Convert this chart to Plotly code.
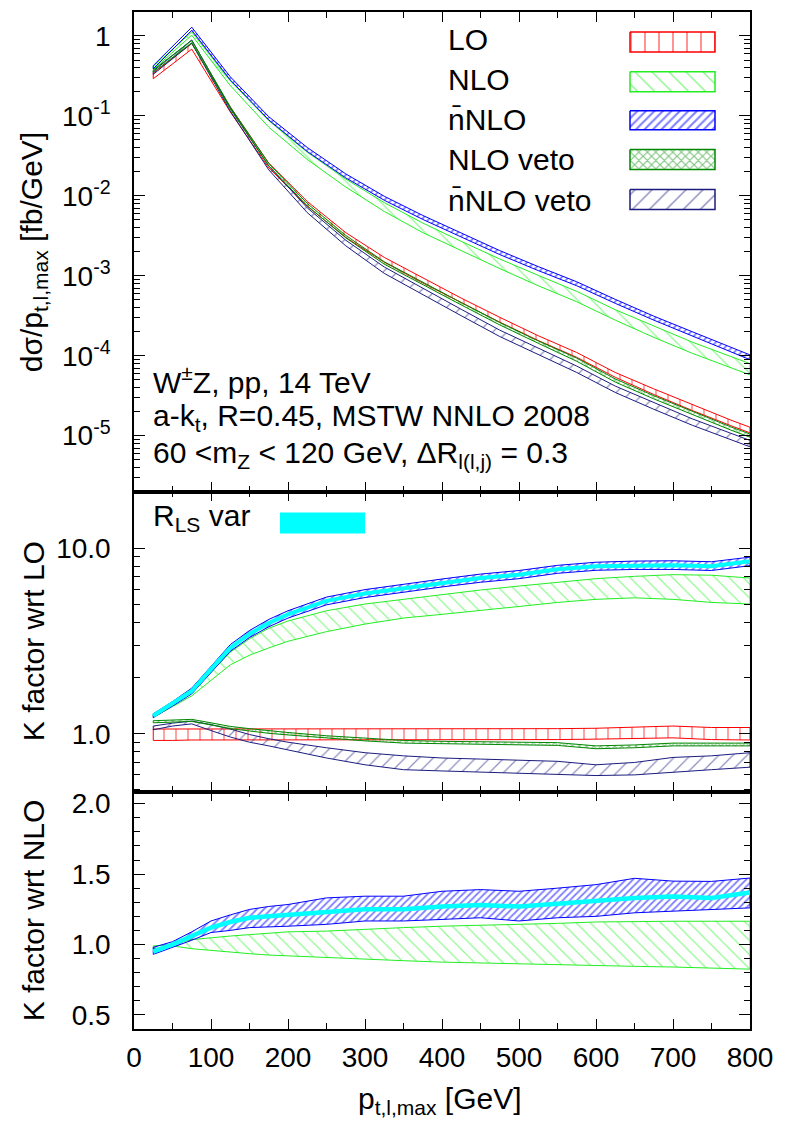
import plotly.graph_objects as go

# ---------------- data ----------------
# top panel: bin centres [GeV] and log10(dsigma/dpt) [fb/GeV], with band half-widths (log10)
pt_top = [25, 75, 125, 175, 225, 275, 325, 375, 425, 475, 525, 575, 625, 675, 725, 775, 800]
lo_log = [-0.50, -0.13, -0.92, -1.62, -2.10, -2.49, -2.80, -3.06, -3.31, -3.55, -3.78, -3.99, -4.24, -4.45, -4.65, -4.84, -4.93]
lo_hw = [0.035, 0.035, 0.03, 0.03, 0.03, 0.03, 0.03, 0.03, 0.03, 0.03, 0.03, 0.03, 0.03, 0.035, 0.035, 0.035, 0.035]
nlo_log = [-0.40, 0.03, -0.59, -1.10, -1.50, -1.84, -2.14, -2.40, -2.63, -2.85, -3.06, -3.26, -3.49, -3.70, -3.90, -4.08, -4.17]
nlo_hw = [0.02, 0.02, 0.03, 0.04, 0.045, 0.05, 0.055, 0.06, 0.06, 0.06, 0.065, 0.065, 0.065, 0.07, 0.07, 0.07, 0.07]
nnlo_log = [-0.39, 0.09, -0.53, -1.03, -1.42, -1.75, -2.03, -2.27, -2.49, -2.71, -2.91, -3.10, -3.32, -3.53, -3.73, -3.92, -4.02]
nnlo_hw = [0.02, 0.02, 0.02, 0.02, 0.025, 0.025, 0.025, 0.025, 0.025, 0.025, 0.025, 0.025, 0.025, 0.025, 0.03, 0.03, 0.03]
nlov_log = [-0.44, -0.07, -0.90, -1.61, -2.11, -2.51, -2.84, -3.10, -3.35, -3.60, -3.83, -4.05, -4.31, -4.52, -4.72, -4.91, -5.00]
nlov_hw = [0.015, 0.015, 0.015, 0.015, 0.015, 0.015, 0.015, 0.015, 0.015, 0.015, 0.015, 0.02, 0.02, 0.02, 0.02, 0.02, 0.02]
nnlov_log = [-0.46, -0.07, -0.92, -1.65, -2.18, -2.59, -2.93, -3.20, -3.46, -3.72, -3.95, -4.17, -4.42, -4.63, -4.83, -5.01, -5.10]
nnlov_hw = [0.02, 0.02, 0.02, 0.025, 0.03, 0.035, 0.04, 0.04, 0.04, 0.04, 0.04, 0.04, 0.04, 0.04, 0.04, 0.04, 0.04]

# ratio panels
pt_k = [25, 50, 75, 100, 125, 150, 175, 200, 250, 300, 350, 400, 450, 500, 550, 600, 650, 700, 750, 800]
# K factor wrt LO
klo_lo_up = [1.06, 1.06, 1.06, 1.06, 1.06, 1.06, 1.06, 1.06, 1.06, 1.06, 1.06, 1.06, 1.06, 1.06, 1.065, 1.07, 1.09, 1.10, 1.08, 1.08]
klo_lo_dn = [0.92, 0.92, 0.925, 0.93, 0.93, 0.93, 0.93, 0.93, 0.93, 0.93, 0.93, 0.93, 0.93, 0.93, 0.93, 0.935, 0.94, 0.95, 0.93, 0.925]
klo_nlo_up = [1.27, 1.45, 1.67, 2.15, 2.75, 3.25, 3.70, 4.05, 4.60, 5.00, 5.30, 5.60, 5.95, 6.25, 6.55, 6.85, 7.05, 7.20, 7.15, 6.90]
klo_nlo_dn = [1.23, 1.40, 1.60, 1.95, 2.35, 2.65, 2.90, 3.15, 3.55, 3.90, 4.20, 4.40, 4.60, 4.85, 5.10, 5.30, 5.40, 5.30, 5.10, 5.00]
klo_nnlo_up = [1.28, 1.49, 1.76, 2.32, 3.02, 3.60, 4.13, 4.60, 5.45, 5.98, 6.40, 6.82, 7.25, 7.58, 8.08, 8.40, 8.52, 8.55, 8.45, 8.95]
klo_nnlo_dn = [1.22, 1.41, 1.64, 2.14, 2.78, 3.30, 3.77, 4.20, 4.95, 5.42, 5.80, 6.18, 6.55, 6.85, 7.32, 7.60, 7.68, 7.68, 7.58, 8.05]
klo_nlov_up = [1.175, 1.185, 1.195, 1.145, 1.095, 1.065, 1.035, 1.015, 0.975, 0.945, 0.92, 0.91, 0.905, 0.90, 0.895, 0.86, 0.87, 0.89, 0.89, 0.89]
klo_nlov_dn = [1.145, 1.155, 1.165, 1.115, 1.065, 1.035, 1.005, 0.985, 0.945, 0.915, 0.89, 0.88, 0.875, 0.87, 0.865, 0.83, 0.84, 0.86, 0.86, 0.86]
klo_nnlov_up = [1.10, 1.14, 1.17, 1.12, 1.06, 0.99, 0.94, 0.90, 0.84, 0.79, 0.76, 0.74, 0.73, 0.72, 0.71, 0.68, 0.70, 0.745, 0.76, 0.79]
klo_nnlov_dn = [1.05, 1.10, 1.13, 1.04, 0.96, 0.90, 0.86, 0.82, 0.74, 0.68, 0.64, 0.63, 0.62, 0.61, 0.605, 0.595, 0.60, 0.62, 0.64, 0.66]
klo_rls = [1.25, 1.45, 1.70, 2.23, 2.90, 3.45, 3.95, 4.40, 5.20, 5.70, 6.10, 6.50, 6.90, 7.20, 7.70, 8.00, 8.10, 8.10, 8.00, 8.50]
# K factor wrt NLO
knlo_nlo_up = [0.99, 1.00, 1.035, 1.05, 1.06, 1.07, 1.08, 1.09, 1.095, 1.11, 1.12, 1.13, 1.135, 1.14, 1.15, 1.16, 1.165, 1.165, 1.165, 1.165]
knlo_nlo_dn = [0.97, 0.99, 0.97, 0.955, 0.945, 0.935, 0.925, 0.915, 0.905, 0.895, 0.885, 0.875, 0.868, 0.862, 0.855, 0.85, 0.845, 0.84, 0.835, 0.825]
knlo_nnlo_up = [0.98, 1.02, 1.09, 1.167, 1.21, 1.249, 1.27, 1.284, 1.331, 1.343, 1.343, 1.378, 1.39, 1.378, 1.40, 1.425, 1.47, 1.45, 1.448, 1.472]
knlo_nnlo_dn = [0.93, 0.98, 1.03, 1.085, 1.10, 1.12, 1.125, 1.13, 1.143, 1.167, 1.167, 1.178, 1.19, 1.167, 1.19, 1.20, 1.225, 1.237, 1.25, 1.26]
knlo_rls = [0.95, 1.00, 1.06, 1.12, 1.16, 1.19, 1.20, 1.21, 1.23, 1.25, 1.25, 1.27, 1.28, 1.27, 1.29, 1.31, 1.33, 1.34, 1.33, 1.37]

# y-axis tick labels
top_tickvals = [1e-5, 1e-4, 1e-3, 1e-2, 1e-1, 1]
top_ticktext = ["10<sup>-5</sup>", "10<sup>-4</sup>", "10<sup>-3</sup>", "10<sup>-2</sup>", "10<sup>-1</sup>", "1"]
mid_tickvals = [1, 10]
mid_ticktext = ["1.0", "10.0"]
bot_tickvals = [0.5, 1.0, 1.5, 2.0]
bot_ticktext = ["0.5", "1.0", "1.5", "2.0"]
x_tickvals = [0, 100, 200, 300, 400, 500, 600, 700, 800]

legend_labels = ["LO", "NLO", "n\u0304NLO", "NLO veto", "n\u0304NLO veto"]

# ---------------- styling ----------------
FONT = "Liberation Sans, Arial, Helvetica, sans-serif"
RED, GREEN, BLUE, DGREEN, NAVY, CYAN = "#ff0000", "#22ee22", "#0000ff", "#008800", "#1c1c80", "#00ffff"
STY = {
    "LO": (RED, "|", 12, 0.12),
    "NLO": (GREEN, "\\", 10, 0.12),
    "nNLO": (BLUE, "/", 5, 0.35),
    "NLOv": (DGREEN, "x", 5, 0.35),
    "nNLOv": (NAVY, "/", 10, 0.12),
}
SW_SIZE = {"LO": 14, "NLO": 12, "nNLO": 6, "NLOv": 6, "nNLOv": 12}

W, H = 790, 1124
L, R, T, B = 134, 40, 9, 95
PW, PH = W - L - R, H - T - B


def px(x):
    return (x - L) / PW


def py(y):
    return (T + PH - y) / PH


def band(x, lo, hi, key, xa, ya, lw=1.0):
    color, shape, size, sol = STY[key]
    xs = list(x) + list(x)[::-1] + [x[0]]
    ys = list(hi) + list(lo)[::-1] + [hi[0]]
    return go.Scatter(
        x=xs, y=ys, mode="lines", fill="toself",
        line=dict(color=color, width=lw),
        fillcolor="rgba(0,0,0,0)",
        fillpattern=dict(shape=shape, fgcolor=color, bgcolor="rgba(0,0,0,0)",
                         size=size, solidity=sol, fillmode="overlay"),
        xaxis=xa, yaxis=ya, showlegend=False, hoverinfo="skip",
    )


fig = go.Figure()

# top panel
for key, c, hw in [("NLO", nlo_log, nlo_hw), ("nNLO", nnlo_log, nnlo_hw),
                   ("LO", lo_log, lo_hw), ("nNLOv", nnlov_log, nnlov_hw),
                   ("NLOv", nlov_log, nlov_hw)]:
    hi = [10 ** (a + b) for a, b in zip(c, hw)]
    lo = [10 ** (a - b) for a, b in zip(c, hw)]
    fig.add_trace(band(pt_top, lo, hi, key, "x3", "y3"))

# middle panel
fig.add_trace(band(pt_k, klo_lo_dn, klo_lo_up, "LO", "x2", "y2"))
fig.add_trace(band(pt_k, klo_nlo_dn, klo_nlo_up, "NLO", "x2", "y2"))
fig.add_trace(band(pt_k, klo_nnlo_dn, klo_nnlo_up, "nNLO", "x2", "y2"))
fig.add_trace(band(pt_k, klo_nnlov_dn, klo_nnlov_up, "nNLOv", "x2", "y2"))
fig.add_trace(band(pt_k, klo_nlov_dn, klo_nlov_up, "NLOv", "x2", "y2"))
fig.add_trace(go.Scatter(x=pt_k, y=klo_rls, mode="lines", line=dict(color=CYAN, width=4),
                         xaxis="x2", yaxis="y2", showlegend=False, hoverinfo="skip"))

# bottom panel
fig.add_trace(band(pt_k, knlo_nlo_dn, knlo_nlo_up, "NLO", "x", "y"))
fig.add_trace(band(pt_k, knlo_nnlo_dn, knlo_nnlo_up, "nNLO", "x", "y"))
fig.add_trace(go.Scatter(x=pt_k, y=knlo_rls, mode="lines", line=dict(color=CYAN, width=4.5),
                         xaxis="x", yaxis="y", showlegend=False, hoverinfo="skip"))

# legend swatches (overlay axis in pixel units)
sw_rows = [(29, 49), (69, 89), (108, 127), (147, 167), (187, 207)]
for key, (y0, y1) in zip(["LO", "NLO", "nNLO", "NLOv", "nNLOv"], sw_rows):
    color, shape, size, sol = STY[key]
    fig.add_trace(go.Scatter(
        x=[630, 715, 715, 630, 630], y=[y0, y0, y1, y1, y0], mode="lines", fill="toself",
        line=dict(color=color, width=1.5), fillcolor="rgba(0,0,0,0)",
        fillpattern=dict(shape=shape, fgcolor=color, bgcolor="rgba(0,0,0,0)",
                         size=SW_SIZE[key], solidity=sol, fillmode="overlay"),
        xaxis="x4", yaxis="y4", showlegend=False, hoverinfo="skip"))

# ---------------- axes ----------------
minor_x = [50, 150, 250, 350, 450, 550, 650, 750]
common_x = dict(range=[0, 800], tickmode="array", tickvals=x_tickvals, ticks="inside", ticklen=10,
                tickwidth=1.3, tickcolor="black", showline=True, linecolor="black", linewidth=1.5,
                mirror="allticks", showgrid=False, zeroline=False,
                minor=dict(tickvals=minor_x, ticks="inside", ticklen=6, tickwidth=1.3, tickcolor="black"),
                tickfont=dict(family=FONT, size=28, color="black"))

minor_top = []
for d in range(-6, 1):
    for m in range(2, 10):
        v = m * 10 ** d
        if 2e-6 <= v <= 2:
            minor_top.append(v)
minor_mid = [0.5, 0.6, 0.7, 0.8, 0.9, 2, 3, 4, 5, 6, 7, 8, 9, 20]
minor_bot = [0.6, 0.7, 0.8, 0.9, 1.1, 1.2, 1.3, 1.4, 1.6, 1.7, 1.8, 1.9]

common_y = dict(tickmode="array", ticks="inside", ticklen=11, tickwidth=1.3, tickcolor="black",
                showline=True, linecolor="black", linewidth=1.5, mirror="allticks",
                showgrid=False, zeroline=False, ticklabelstandoff=16,
                tickfont=dict(family=FONT, size=28, color="black"))

fig.update_layout(
    width=W, height=H,
    margin=dict(l=L, r=R, t=T, b=B, pad=0),
    paper_bgcolor="white", plot_bgcolor="rgba(0,0,0,0)",
    font=dict(family=FONT, size=28, color="black"),
    showlegend=False,
    xaxis=dict(**common_x, anchor="y", domain=[0, 1], showticklabels=True, ticklabelstandoff=3),
    xaxis2=dict(**common_x, anchor="y2", domain=[0, 1], matches="x", showticklabels=False),
    xaxis3=dict(**common_x, anchor="y3", domain=[0, 1], matches="x", showticklabels=False),
    yaxis=dict(**common_y, anchor="x", domain=[0, py(791)], range=[0.4, 2.085],
               tickvals=bot_tickvals, ticktext=bot_ticktext,
               minor=dict(tickvals=minor_bot, ticks="inside", ticklen=6, tickwidth=1.3, tickcolor="black")),
    yaxis2=dict(**common_y, anchor="x2", domain=[py(791), py(490)], type="log",
                range=[-0.3125, 1.305], tickvals=mid_tickvals, ticktext=mid_ticktext,
                minor=dict(tickvals=minor_mid, ticks="inside", ticklen=6, tickwidth=1.3, tickcolor="black")),
    yaxis3=dict(**common_y, anchor="x3", domain=[py(490), 1], type="log",
                range=[-5.7, 0.3], tickvals=top_tickvals, ticktext=top_ticktext,
                minor=dict(tickvals=minor_top, ticks="inside", ticklen=6, tickwidth=1.3, tickcolor="black")),
    xaxis4=dict(domain=[0, 1], range=[L, L + PW], visible=False, anchor="y4", fixedrange=True),
    yaxis4=dict(domain=[0, 1], range=[T + PH, T], visible=False, anchor="x4", fixedrange=True),
)

# ---------------- text ----------------
ann = []


def add_text(x, y, text, size=30, xanchor="left", angle=0):
    ann.append(dict(x=px(x), y=py(y), xref="paper", yref="paper", text=text, showarrow=False,
                    xanchor=xanchor, yanchor="middle", textangle=angle,
                    font=dict(family=FONT, size=size, color="black")))


legend_y = [37, 77, 117, 157, 198]
for lab, yy in zip(legend_labels, legend_y):
    add_text(446, yy, lab)

add_text(151, 378, "W<sup>\u00b1</sup>Z, pp, 14 TeV")
add_text(151, 416, "a-k<sub>t</sub>, R=0.45, MSTW NNLO 2008")
add_text(151, 453, "60 &lt;m<sub>Z</sub> &lt; 120 GeV, \u0394R<sub>l(l,j)</sub> = 0.3")
add_text(151, 516, "R<sub>LS</sub> var")

add_text(33, 250, "d\u03c3/p<sub>t,l,max</sub> [fb/GeV]", xanchor="center", angle=-90)
add_text(33, 640, "K factor wrt LO", xanchor="center", angle=-90)
add_text(33, 910, "K factor wrt NLO", xanchor="center", angle=-90)
add_text(440, 1101, "p<sub>t,l,max</sub> [GeV]", xanchor="center")

fig.update_layout(annotations=ann)
fig.add_shape(type="rect", xref="paper", yref="paper", x0=px(280), x1=px(365), y0=py(532), y1=py(511),
              fillcolor=CYAN, line=dict(width=0))

fig.write_html("out.html")
